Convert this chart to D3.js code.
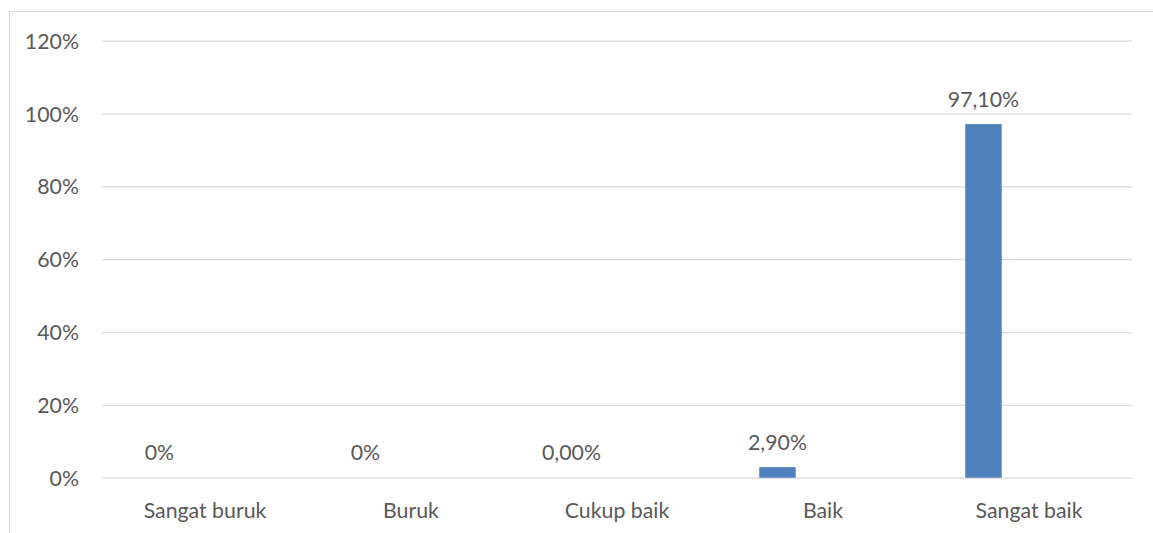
<!DOCTYPE html>
<html><head><meta charset="utf-8">
<script src="https://cdn.jsdelivr.net/npm/d3@7"></script>
<style>
html,body{margin:0;padding:0;background:#fff;}
svg{display:block;}
text{font-family:Lato,"Open Sans",sans-serif;fill:#595959;}
</style></head>
<body><svg id="chart" width="1153" height="533"></svg>
<script>
const categories = ["Sangat buruk","Buruk","Cukup baik","Baik","Sangat baik"];
const values = [0, 0, 0, 2.9, 97.1];
const valueLabels = ["0%","0%","0,00%","2,90%","97,10%"];
const yTicks = [0,20,40,60,80,100,120];

const W = 1153, H = 533;
const plot = {left:102, right:1132, top:40.7, bottom:477.7};
const svg = d3.select("#chart");
const FS = "21.3px";

svg.append("rect").attr("x",9.5).attr("y",11.5).attr("width",1200).attr("height",600)
  .attr("fill","none").attr("stroke","#d9d9d9").attr("stroke-width",1);

const x = d3.scaleBand().domain(categories).range([plot.left, plot.right]).paddingInner(0).paddingOuter(0);
const y = d3.scaleLinear().domain([0,120]).range([plot.bottom, plot.top]);

// gridlines
const yAxis = d3.axisLeft(y).tickValues(yTicks).tickSize(-(plot.right-plot.left)).tickPadding(23).tickFormat(d => d + "%");
const gy = svg.append("g").attr("transform", `translate(${plot.left},0)`).call(yAxis);
gy.select(".domain").remove();
gy.selectAll(".tick line").attr("stroke","#d9d9d9").attr("stroke-width",1.2);
gy.selectAll(".tick text").attr("font-size",FS).attr("fill","#595959").attr("dy","0.35em");

// category axis
const xAxis = d3.axisBottom(x).tickSize(0).tickPadding(25);
const gx = svg.append("g").attr("transform", `translate(0,${plot.bottom})`).call(xAxis);
gx.select(".domain").remove();
gx.selectAll(".tick text").attr("font-size",FS).attr("fill","#595959");

const bw = x.bandwidth();
const barW = bw * 0.177;
const barCx = c => x(c) + bw/2 - bw*0.221;

svg.append("g").selectAll("rect").data(categories).join("rect")
  .attr("x", c => barCx(c) - barW/2)
  .attr("width", barW)
  .attr("y", (c,i) => y(values[i]))
  .attr("height", (c,i) => y(0) - y(values[i]))
  .attr("fill", "#4f81bd");

svg.append("g").selectAll("text").data(categories).join("text")
  .attr("x", c => barCx(c))
  .attr("y", (c,i) => y(values[i]) - 17.5)
  .attr("text-anchor","middle")
  .attr("font-size",FS)
  .text((c,i) => valueLabels[i]);
</script></body></html>
